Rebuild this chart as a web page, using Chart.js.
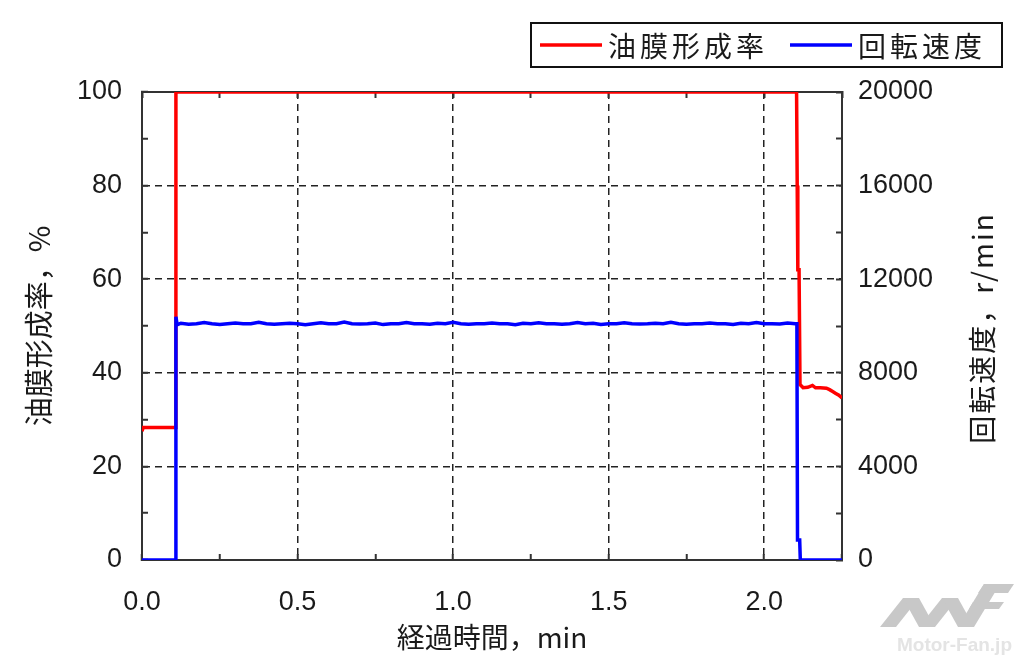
<!DOCTYPE html>
<html>
<head>
<meta charset="utf-8">
<script src="https://cdn.jsdelivr.net/npm/chart.js@4.4.1/dist/chart.umd.min.js"></script>
<style>
  html, body { margin: 0; padding: 0; background: #fff; }
  #wrap { width: 1024px; height: 664px; }
</style>
</head>
<body>
<div id="wrap"><canvas id="chart" width="1024" height="664"></canvas></div>
<script>
// 油膜形成率 (%), left axis
const filmTime = [0, 0.004, 0.108, 0.109, 2.104, 2.106, 2.108, 2.112, 2.115, 2.125, 2.14, 2.155, 2.165, 2.18, 2.2, 2.21, 2.22, 2.23, 2.24, 2.25];
const filmRate = [27.5, 28.3, 28.3, 100, 100, 80, 62, 62, 37.5, 36.8, 36.9, 37.3, 36.8, 36.8, 36.7, 36.4, 36.0, 35.6, 35.2, 34.6];

// 回転速度 (r/min), right axis
const speedTime = [0, 0.108, 0.109, 0.113,
  0.125, 0.15, 0.175, 0.2, 0.225, 0.25, 0.275, 0.3, 0.325, 0.35,
  0.375, 0.4, 0.425, 0.45, 0.475, 0.5, 0.525, 0.55, 0.575, 0.6,
  0.625, 0.65, 0.675, 0.7, 0.725, 0.75, 0.775, 0.8, 0.825, 0.85,
  0.875, 0.9, 0.925, 0.95, 0.975, 1.0, 1.025, 1.05, 1.075, 1.1,
  1.125, 1.15, 1.175, 1.2, 1.225, 1.25, 1.275, 1.3, 1.325, 1.35,
  1.375, 1.4, 1.425, 1.45, 1.475, 1.5, 1.525, 1.55, 1.575, 1.6,
  1.625, 1.65, 1.675, 1.7, 1.725, 1.75, 1.775, 1.8, 1.825, 1.85,
  1.875, 1.9, 1.925, 1.95, 1.975, 2.0, 2.025, 2.05, 2.075, 2.1,
  2.105, 2.107, 2.114, 2.116, 2.25];
const speedValue = [0, 0, 10400, 10050,
  10120, 10080, 10100, 10150, 10100, 10060, 10100, 10130, 10100, 10100,
  10160, 10100, 10080, 10100, 10120, 10100, 10050, 10100, 10140, 10100,
  10100, 10170, 10100, 10090, 10100, 10130, 10060, 10100, 10100, 10150,
  10100, 10100, 10080, 10120, 10100, 10160, 10100, 10070, 10100, 10100,
  10130, 10100, 10100, 10050, 10120, 10100, 10140, 10100, 10100, 10080,
  10100, 10150, 10100, 10120, 10060, 10100, 10100, 10140, 10100, 10090,
  10100, 10120, 10100, 10160, 10100, 10070, 10100, 10100, 10130, 10100,
  10100, 10060, 10120, 10100, 10150, 10100, 10100, 10090, 10130, 10100,
  10100, 850, 850, 0, 0];

const seriesNames = ['油膜形成率', '回転速度'];
const seriesColors = ['#ff0000', '#0000ff'];

const xTitle = '経過時間，min';
const yTitle = '油膜形成率，%';
const y2Title = '回転速度，r/min';

const numFont = { family: '"Liberation Sans", Arial, sans-serif', size: 27 };
const jpFamily = '"Noto Sans CJK JP", "Noto Sans", sans-serif';
const inkColor = '#1a1a1a';
const frameColor = '#333';

const isMultiple = (v, step) => Math.abs(v / step - Math.round(v / step)) < 1e-6;

const decor = {
  id: 'decor',
  afterDraw(chart) {
    const ctx = chart.ctx;
    ctx.save();
    // legend box
    ctx.strokeStyle = '#111';
    ctx.lineWidth = 2;
    ctx.strokeRect(531, 23, 471, 44);
    ctx.font = '28px ' + jpFamily;
    ctx.textBaseline = 'middle';
    ctx.textAlign = 'left';
    ctx.letterSpacing = '4px';
    const items = [{ x: 540, tx: 608 }, { x: 790, tx: 858 }];
    items.forEach((it, i) => {
      ctx.strokeStyle = seriesColors[i];
      ctx.lineWidth = 3.5;
      ctx.beginPath();
      ctx.moveTo(it.x, 45);
      ctx.lineTo(it.x + 62, 45);
      ctx.stroke();
      ctx.fillStyle = inkColor;
      ctx.fillText(seriesNames[i], it.tx, 46);
    });
    // right axis title, reading bottom to top
    ctx.letterSpacing = '2px';
    ctx.translate(982, 328);
    ctx.rotate(-Math.PI / 2);
    ctx.textAlign = 'center';
    ctx.fillText(y2Title, 0, 0);
    ctx.restore();

    // watermark
    ctx.save();
    ctx.fillStyle = '#c8c8c8';
    const shapes = [
      [[880, 627], [903, 598], [919, 598], [896, 627]],
      [[903, 598], [919, 598], [935, 627], [919, 627]],
      [[919, 627], [942, 598], [958, 598], [935, 627]],
      [[942, 598], [958, 598], [974, 627], [958, 627]],
      [[958, 627], [984, 584], [1000, 584], [974, 627]],
      [[984, 584], [1014, 584], [1008, 593], [978, 593]],
      [[973, 602], [1004, 602], [999, 609], [969, 609]]
    ];
    shapes.forEach(s => {
      ctx.beginPath();
      s.forEach((p, k) => k ? ctx.lineTo(p[0], p[1]) : ctx.moveTo(p[0], p[1]));
      ctx.closePath();
      ctx.fill();
    });
    ctx.fillStyle = '#e4e4e4';
    ctx.font = 'bold 19px "Liberation Sans", Arial, sans-serif';
    ctx.textAlign = 'right';
    ctx.textBaseline = 'alphabetic';
    ctx.fillText('Motor-Fan.jp', 1012, 651);
    ctx.restore();
  }
};

new Chart(document.getElementById('chart'), {
  type: 'scatter',
  data: {
    datasets: [
      {
        label: seriesNames[0],
        data: filmTime.map((t, i) => ({ x: t, y: filmRate[i] })),
        borderColor: seriesColors[0],
        backgroundColor: seriesColors[0],
        showLine: true,
        borderWidth: 3.5,
        pointRadius: 0,
        tension: 0,
        yAxisID: 'y',
        order: 1
      },
      {
        label: seriesNames[1],
        data: speedTime.map((t, i) => ({ x: t, y: speedValue[i] })),
        borderColor: seriesColors[1],
        backgroundColor: seriesColors[1],
        showLine: true,
        borderWidth: 3.5,
        pointRadius: 0,
        tension: 0,
        yAxisID: 'y2',
        order: 0
      }
    ]
  },
  options: {
    responsive: false,
    animation: false,
    layout: { padding: { top: 92, left: 0, right: 0, bottom: 0 } },
    plugins: {
      legend: { display: false },
      tooltip: { enabled: false }
    },
    scales: {
      x: {
        type: 'linear',
        position: 'bottom',
        min: 0,
        max: 2.25,
        afterFit: (s) => { s.height = 104; },
        ticks: {
          stepSize: 0.25,
          autoSkip: false,
          maxRotation: 0,
          padding: 32,
          color: inkColor,
          font: numFont,
          callback: (v) => (isMultiple(v, 0.5) ? v.toFixed(1) : '')
        },
        grid: {
          color: (c) => (c.tick && isMultiple(c.tick.value, 0.5) && c.tick.value > 0 && c.tick.value < 2.25 ? '#222' : 'rgba(0,0,0,0)'),
          lineWidth: 1.5,
          tickLength: -6,
          tickColor: frameColor,
          tickWidth: 2
        },
        border: { display: true, color: frameColor, width: 2, dash: (c) => (c.tick ? [7, 5] : []) },
        title: {
          display: true,
          text: xTitle,
          color: inkColor,
          font: { family: jpFamily, size: 28 },
          padding: { top: 0, bottom: 10 }
        }
      },
      xTop: {
        type: 'linear',
        position: 'top',
        min: 0,
        max: 2.25,
        afterFit: (s) => { s.height = 0; },
        ticks: { stepSize: 0.25, autoSkip: false, display: false },
        grid: { drawOnChartArea: false, tickLength: -6, tickColor: frameColor, tickWidth: 2 },
        border: { display: true, color: frameColor, width: 2 }
      },
      y: {
        type: 'linear',
        position: 'left',
        min: 0,
        max: 100,
        afterFit: (s) => { s.width = 142; },
        ticks: {
          stepSize: 10,
          autoSkip: false,
          padding: 26,
          color: inkColor,
          font: numFont,
          callback: (v) => (isMultiple(v, 20) ? String(v) : '')
        },
        grid: {
          color: (c) => (c.tick && isMultiple(c.tick.value, 20) && c.tick.value > 0 && c.tick.value < 100 ? '#222' : 'rgba(0,0,0,0)'),
          lineWidth: 1.5,
          tickLength: -6,
          tickColor: frameColor,
          tickWidth: 2
        },
        border: { display: true, color: frameColor, width: 2, dash: (c) => (c.tick ? [7, 5] : []) },
        title: {
          display: true,
          text: yTitle,
          color: inkColor,
          font: { family: jpFamily, size: 29 },
          padding: { top: 22, bottom: 0 }
        }
      },
      y2: {
        type: 'linear',
        position: 'right',
        min: 0,
        max: 20000,
        afterFit: (s) => { s.width = 182; },
        ticks: {
          stepSize: 2000,
          autoSkip: false,
          padding: 22,
          color: inkColor,
          font: numFont,
          callback: (v) => (isMultiple(v, 4000) ? String(v) : '')
        },
        grid: { drawOnChartArea: false, tickLength: -6, tickColor: frameColor, tickWidth: 2 },
        border: { display: true, color: frameColor, width: 2 }
      }
    }
  },
  plugins: [decor]
});
</script>
</body>
</html>
